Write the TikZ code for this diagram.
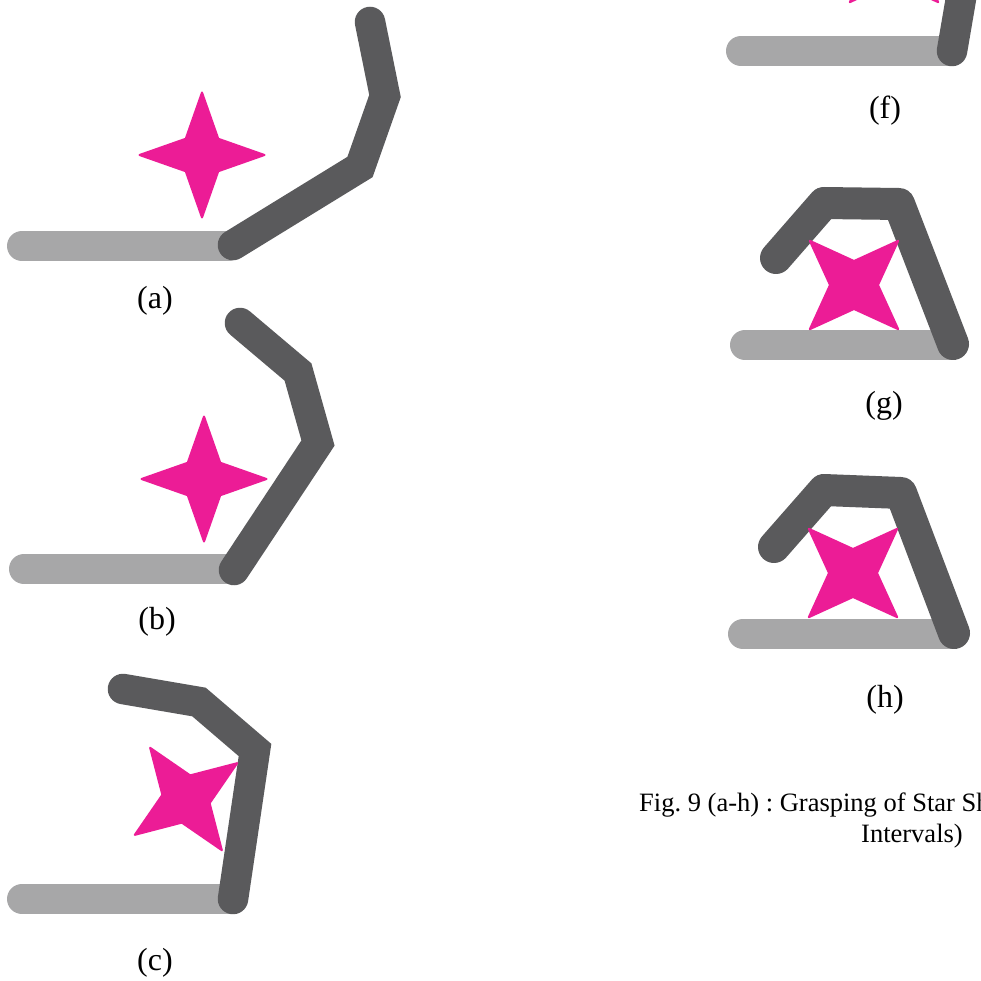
\documentclass[tikz,border=0pt]{standalone}
\usepackage{fontspec}
\setmainfont{Liberation Serif}
\usetikzlibrary{positioning,calc}

\definecolor{fingerdark}{RGB}{90,90,92}
\definecolor{fingerlight}{RGB}{167,167,168}
\definecolor{starpink}{RGB}{236,28,150}

\begin{document}
\begin{tikzpicture}[
    x=1pt,y=-1pt,
    base/.style={line width=30pt,line cap=round,color=fingerlight},
    finger/.style={line width=30.5pt,line cap=round,line join=miter,color=fingerdark},
    fingerclosed/.style={line width=32pt,line cap=round,line join=round,color=fingerdark},
    starfill/.style={fill=starpink,draw=starpink,line width=2pt,line join=round},
    label/.style={font=\fontsize{32}{32}\selectfont,inner sep=0pt},
    caption/.style={font=\frenchspacing\fontsize{26.5}{31}\selectfont,inner sep=0pt,anchor=base west}
]

% star: center x, center y, rotation, tip radius, waist radius
\def\drawstar#1#2#3#4#5{
    \filldraw[starfill,shift={(#1,#2)}]
        (#3:#4) -- (#3+45:#5) -- (#3+90:#4) -- (#3+135:#5) --
        (#3+180:#4) -- (#3+225:#5) -- (#3+270:#4) -- (#3+315:#5) -- cycle;
}

\clip (0,0) rectangle (981,981);
\fill[white] (0,0) rectangle (981,981);

% (a)
\draw[base] (22,246) -- (229,246);
\draw[finger] (233,245) -- (360,167) -- (385,96) -- (370,22);
\drawstar{202}{155}{0}{62.5}{23}
\node[label] (labelA) at (155,301) {(a)};

% (b)
\draw[base] (24,569) -- (230,569);
\draw[finger] (234,570) -- (318,443) -- (298,372) -- (240,323);
\drawstar{204}{479}{0}{62.5}{23}
\node[label] (labelB) at (157,622) {(b)};

% (c)
\draw[base] (22,899) -- (229,899);
\draw[finger] (233,899) -- (255,750) -- (199,702) -- (123,689);
\drawstar{186}{799}{-35}{62.5}{24}
\node[label] (labelC) at (155,963) {(c)};

% (f)
\draw[base] (741,51) -- (949,51);
\draw[finger] (952,51) -- (965,-25);
\drawstar{894}{-42}{45}{62.5}{24}
\node[label] (labelF) at (885,111) {(f)};

% (g)
\draw[base] (745,345) -- (951,345);
\draw[fingerclosed] (953,344) -- (899,204) -- (824,203) -- (776,258);
\drawstar{854}{285}{45}{62.5}{24}
\node[label] (labelG) at (884,406) {(g)};

% (h)
\draw[base] (743,634) -- (952,634);
\draw[fingerclosed] (954,633) -- (901,493) -- (824,490) -- (774,547);
\drawstar{853}{573}{45}{62.5}{24}
\node[label] (labelH) at (885,700) {(h)};

% caption runs off the page on the right
\node[caption] (captionTop) at (639,811) {Fig. 9 (a-h) : Grasping of Star Shape};
\node[caption] (captionBottom) at (861,842) {Intervals)};

\end{tikzpicture}
\end{document}
